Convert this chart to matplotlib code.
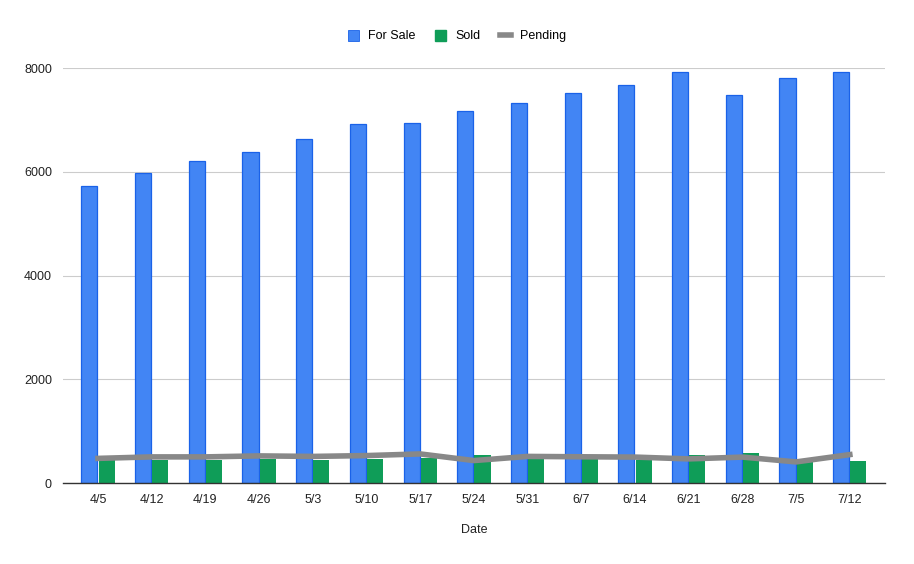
import matplotlib.pyplot as plt
import numpy as np
from matplotlib.lines import Line2D
from matplotlib.patches import Patch

plt.rcParams['font.family'] = ['Liberation Sans', 'DejaVu Sans']

dates = ['4/5', '4/12', '4/19', '4/26', '5/3', '5/10', '5/17', '5/24',
         '5/31', '6/7', '6/14', '6/21', '6/28', '7/5', '7/12']
for_sale = [5720, 5975, 6210, 6380, 6630, 6920, 6940, 7170,
            7320, 7530, 7670, 7920, 7480, 7810, 7920]
sold = [440, 450, 450, 470, 450, 470, 480, 548,
        470, 470, 452, 548, 587, 465, 433]
pending = [475, 504, 504, 523, 513, 529, 561, 433,
           513, 506, 500, 465, 500, 407, 548]

blue = '#4285f4'
green = '#0f9d58'
gray = '#888888'

fig = plt.figure(figsize=(9.14, 5.64), dpi=100)
ax = fig.add_axes([0.069, 0.1436, 0.899, 0.7354])

x = np.arange(len(dates))
w = 0.3
ax.bar(x - w / 2 - 0.01, for_sale, w, color=blue, edgecolor='#1a62e8', linewidth=0.9, zorder=2)
ax.bar(x + w / 2 + 0.01, sold, w, color=green, linewidth=0, zorder=2)
ax.plot(x, pending, color=gray, linewidth=4, solid_joinstyle='round', zorder=3)

ax.set_xlim(-0.65, len(dates) - 1 + 0.65)
ax.set_ylim(0, 8000)
ax.set_yticks([0, 2000, 4000, 6000, 8000])
ax.set_xticks(x)
ax.set_xticklabels(dates)
ax.grid(axis='y', color='#cccccc', linewidth=0.8, zorder=0)
ax.set_axisbelow(True)
for s in ['top', 'right', 'left']:
    ax.spines[s].set_visible(False)
ax.spines['bottom'].set_color('#333333')
ax.spines['bottom'].set_linewidth(1.0)
ax.spines['bottom'].set_zorder(4)
ax.tick_params(axis='both', length=0, labelsize=9, colors='#222222')
ax.tick_params(axis='y', pad=8)
ax.tick_params(axis='x', pad=8)
ax.set_xlabel('Date', fontsize=9, color='#222222', labelpad=13)

handles = [Patch(facecolor=blue, edgecolor='#1a62e8', linewidth=0.6),
           Patch(facecolor=green, edgecolor=green),
           Line2D([0], [0], color=gray, linewidth=4)]
fig.legend(handles, ['For Sale', 'Sold', 'Pending'], loc='center',
           bbox_to_anchor=(0.5, 1 - 36 / 564), ncol=3, frameon=False,
           fontsize=9, handlelength=0.9, handleheight=1.0,
           columnspacing=1.6, handletextpad=0.7)

fig.savefig('out.png', dpi=100)
